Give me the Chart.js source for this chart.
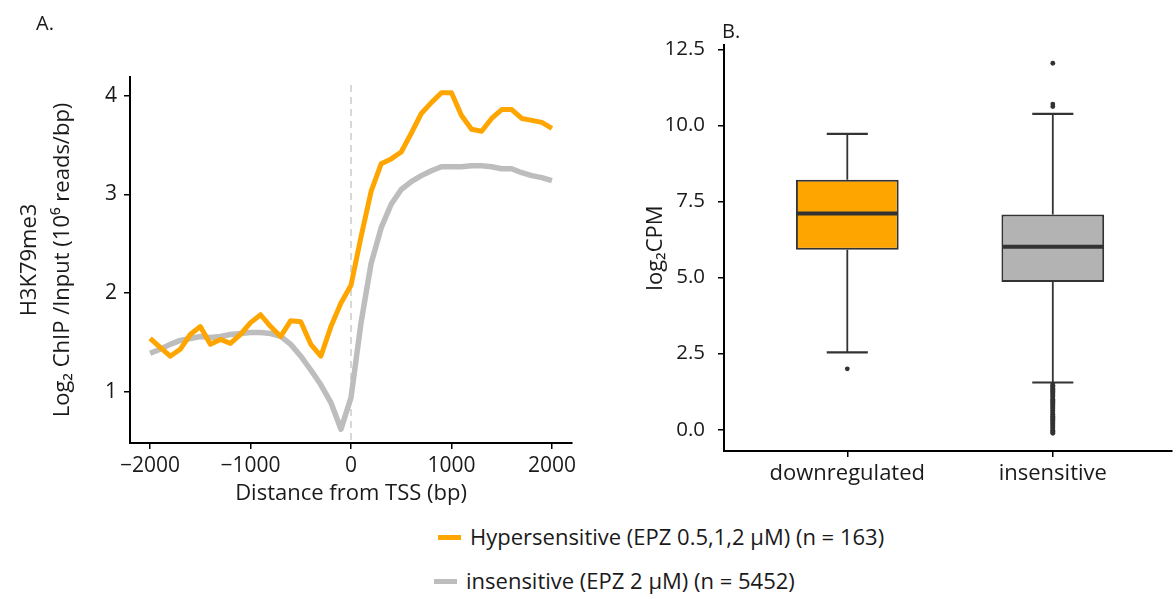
<!DOCTYPE html>
<html>
<head>
    <title>H3K79me3 profile and expression</title>
    <script src="https://cdn.jsdelivr.net/npm/chart.js"></script>
    <style>
        body {
            margin: 0;
            width: 1176px;
            height: 599px;
            background-color: white;
            font-family: "Open Sans", sans-serif;
            color: #1a1a1a;
            position: relative;
            overflow: hidden;
        }
        canvas { position: absolute; top: 0; }
        #profileChart { left: 0; }
        #boxChart { left: 600px; }
        .panel-label {
            position: absolute;
            font-size: 20px;
            line-height: 20px;
        }
        .legend-row {
            position: absolute;
            font-size: 22px;
            line-height: 24px;
            white-space: nowrap;
        }
        .swatch {
            display: inline-block;
            width: 23px;
            height: 5px;
            vertical-align: middle;
            margin-right: 9px;
            position: relative;
            top: -2px;
        }
    </style>
</head>
<body>
    <canvas id="profileChart" width="600" height="510"></canvas>
    <canvas id="boxChart" width="576" height="510"></canvas>

    <div class="panel-label" style="left:36px; top:13px;">A.</div>
    <div class="panel-label" style="left:722px; top:21px;">B.</div>

    <div class="legend-row" style="left:438px; top:524px;">
        <span class="swatch" style="background:#FFA500;"></span>Hypersensitive (EPZ 0.5,1,2 μM) (n = 163)
    </div>
    <div class="legend-row" style="left:434px; top:568px;">
        <span class="swatch" style="background:#BDBDBD;"></span>insensitive (EPZ 2 μM) (n = 5452)
    </div>

    <script>
        // Panel A data: distance from TSS (bp)
        const distance = [-2000, -1900, -1800, -1700, -1600, -1500, -1400, -1300, -1200, -1100,
                          -1000, -900, -800, -700, -600, -500, -400, -300, -200, -100,
                          0, 100, 200, 300, 400, 500, 600, 700, 800, 900,
                          1000, 1100, 1200, 1300, 1400, 1500, 1600, 1700, 1800, 1900, 2000];
        const hypersensitive = [1.54, 1.45, 1.36, 1.43, 1.58, 1.66, 1.48, 1.53, 1.49, 1.58,
                                1.70, 1.78, 1.66, 1.56, 1.72, 1.71, 1.48, 1.36, 1.66, 1.90,
                                2.08, 2.57, 3.03, 3.31, 3.36, 3.43, 3.62, 3.82, 3.93, 4.03,
                                4.03, 3.80, 3.66, 3.64, 3.77, 3.86, 3.86, 3.77, 3.75, 3.73, 3.67];
        const insensitive = [1.39, 1.43, 1.48, 1.52, 1.54, 1.56, 1.55, 1.56, 1.58, 1.59,
                             1.60, 1.60, 1.59, 1.56, 1.48, 1.36, 1.22, 1.07, 0.89, 0.62,
                             0.94, 1.70, 2.30, 2.66, 2.90, 3.05, 3.13, 3.19, 3.24, 3.28,
                             3.28, 3.28, 3.29, 3.29, 3.28, 3.26, 3.26, 3.22, 3.19, 3.17, 3.14];
        const profileXTicks = [-2000, -1000, 0, 1000, 2000];
        const profileYTicks = [1, 2, 3, 4];
        const tssPosition = 0;

        // Panel B data: log2 CPM box statistics
        const boxCategories = ['downregulated', 'insensitive'];
        const boxQ1 = [5.91, 4.85];
        const boxMedian = [7.10, 6.01];
        const boxQ3 = [8.21, 7.07];
        const whiskerLow = [2.54, 1.55];
        const whiskerHigh = [9.72, 10.38];
        const outliersDown = [2.00];
        const outliersInsensitive = [12.04, 10.70, 10.62,
                                     1.50, 1.46, 1.43, 1.40, 1.36, 1.33, 1.29, 1.26, 1.22, 1.19,
                                     1.15, 1.12, 1.08, 1.04, 1.00, 0.97, 0.93, 0.90, 0.86, 0.83,
                                     0.79, 0.76, 0.72, 0.69, 0.65, 0.62, 0.58, 0.55, 0.51, 0.48,
                                     0.44, 0.41, 0.37, 0.34, 0.30, 0.27, 0.23, 0.20, 0.16, 0.13,
                                     0.09, 0.06, 0.02, -0.02, -0.05, -0.09, -0.12];
        const boxYTicks = [0, 2.5, 5, 7.5, 10, 12.5];

        const FONT = "'Open Sans', sans-serif";
        const TEXT = '#1a1a1a';
        Chart.defaults.font.family = FONT;
        Chart.defaults.color = TEXT;

        function axisStyle() {
            return {
                grid: { drawOnChartArea: false, drawTicks: true, tickLength: 6, color: '#000', lineWidth: 1.5, offset: false },
                border: { display: true, color: '#000', width: 2 }
            };
        }

        // dashed line at the TSS
        const tssLine = {
            id: 'tssLine',
            beforeDatasetsDraw(chart) {
                const x = chart.scales.x.getPixelForValue(tssPosition);
                const area = chart.chartArea;
                const ctx = chart.ctx;
                ctx.save();
                ctx.strokeStyle = '#cccccc';
                ctx.lineWidth = 1.5;
                ctx.setLineDash([7, 5]);
                ctx.beginPath();
                ctx.moveTo(x, area.top + 8);
                ctx.lineTo(x, area.bottom);
                ctx.stroke();
                ctx.restore();
            }
        };

        new Chart(document.getElementById('profileChart'), {
            type: 'line',
            data: {
                datasets: [{
                    label: 'Hypersensitive (EPZ 0.5,1,2 μM) (n = 163)',
                    data: distance.map((d, i) => ({ x: d, y: hypersensitive[i] })),
                    borderColor: '#FFA500',
                    borderWidth: 5,
                    pointRadius: 0,
                    tension: 0,
                    borderJoinStyle: 'round'
                }, {
                    label: 'insensitive (EPZ 2 μM) (n = 5452)',
                    data: distance.map((d, i) => ({ x: d, y: insensitive[i] })),
                    borderColor: '#BDBDBD',
                    borderWidth: 5.5,
                    pointRadius: 0,
                    tension: 0,
                    borderJoinStyle: 'round'
                }]
            },
            options: {
                responsive: false,
                animation: false,
                devicePixelRatio: 1,
                layout: { padding: { top: 77, right: 28, left: 0, bottom: 0 } },
                plugins: { legend: { display: false }, tooltip: { enabled: false } },
                scales: {
                    x: {
                        type: 'linear',
                        min: -2200,
                        max: 2200,
                        ...axisStyle(),
                        afterBuildTicks: s => { s.ticks = profileXTicks.map(v => ({ value: v })); },
                        afterFit: s => { s.height = 67; },
                        ticks: {
                            padding: 4,
                            font: { size: 21 },
                            color: TEXT,
                            callback: v => (v < 0 ? '\u2212' + Math.abs(v) : String(v))
                        },
                        title: {
                            display: true,
                            text: 'Distance from TSS (bp)',
                            font: { size: 22 },
                            color: TEXT,
                            padding: { top: 0, bottom: 3 }
                        }
                    },
                    y: {
                        min: 0.48,
                        max: 4.19,
                        ...axisStyle(),
                        afterBuildTicks: s => { s.ticks = profileYTicks.map(v => ({ value: v })); },
                        afterFit: s => { s.width = 130; },
                        ticks: { padding: 7, font: { size: 21 }, color: TEXT },
                        title: {
                            display: true,
                            text: ['H3K79me3', 'Log\u2082 ChIP /Input (10\u2076 reads/bp)'],
                            font: { size: 22, lineHeight: 1.5 },
                            color: TEXT,
                            padding: { top: 13, bottom: 0 }
                        }
                    }
                }
            },
            plugins: [tssLine]
        });

        // whiskers, caps and medians drawn through the chart scales
        const boxParts = {
            id: 'boxParts',
            beforeDatasetsDraw(chart) {
                const xs = chart.scales.x, ys = chart.scales.y, ctx = chart.ctx;
                ctx.save();
                ctx.strokeStyle = '#333333';
                boxCategories.forEach((c, i) => {
                    const x = xs.getPixelForValue(i + 1);
                    ctx.lineWidth = 1.8;
                    ctx.beginPath();
                    ctx.moveTo(x, ys.getPixelForValue(boxQ3[i]));
                    ctx.lineTo(x, ys.getPixelForValue(whiskerHigh[i]));
                    ctx.moveTo(x, ys.getPixelForValue(boxQ1[i]));
                    ctx.lineTo(x, ys.getPixelForValue(whiskerLow[i]));
                    ctx.stroke();
                    ctx.lineWidth = 2.2;
                    const l = xs.getPixelForValue(i + 0.9), r = xs.getPixelForValue(i + 1.1);
                    [whiskerHigh[i], whiskerLow[i]].forEach(v => {
                        const y = ys.getPixelForValue(v);
                        ctx.beginPath();
                        ctx.moveTo(l, y);
                        ctx.lineTo(r, y);
                        ctx.stroke();
                    });
                });
                ctx.restore();
            },
            afterDatasetsDraw(chart) {
                const xs = chart.scales.x, ys = chart.scales.y, ctx = chart.ctx;
                ctx.save();
                ctx.strokeStyle = '#333333';
                ctx.lineWidth = 4;
                boxCategories.forEach((c, i) => {
                    const y = ys.getPixelForValue(boxMedian[i]);
                    ctx.beginPath();
                    ctx.moveTo(xs.getPixelForValue(i + 0.75) + 1, y);
                    ctx.lineTo(xs.getPixelForValue(i + 1.25) - 1, y);
                    ctx.stroke();
                });
                ctx.restore();
            }
        };

        const outlierPoints = outliersDown.map(v => ({ x: 1, y: v }))
            .concat(outliersInsensitive.map(v => ({ x: 2, y: v })));

        new Chart(document.getElementById('boxChart'), {
            type: 'bar',
            data: {
                datasets: [{
                    label: 'log2CPM',
                    data: boxCategories.map((c, i) => ({ x: i + 1, y: [boxQ1[i], boxQ3[i]] })),
                    backgroundColor: ['#FFA500', '#B3B3B3'],
                    borderColor: '#333333',
                    borderWidth: 2,
                    borderSkipped: false,
                    categoryPercentage: 1,
                    barPercentage: 0.5
                }, {
                    type: 'scatter',
                    label: 'outliers',
                    data: outlierPoints,
                    pointRadius: 2.4,
                    backgroundColor: '#333333',
                    borderWidth: 0
                }]
            },
            options: {
                responsive: false,
                animation: false,
                devicePixelRatio: 1,
                layout: { padding: { top: 45, right: 0, left: 0, bottom: 0 } },
                plugins: { legend: { display: false }, tooltip: { enabled: false } },
                scales: {
                    x: {
                        type: 'linear',
                        min: 0.4,
                        max: 2.58,
                        offset: false,
                        ...axisStyle(),
                        afterBuildTicks: s => { s.ticks = boxCategories.map((c, i) => ({ value: i + 1 })); },
                        afterFit: s => { s.height = 59; },
                        ticks: {
                            padding: 4,
                            font: { size: 22 },
                            color: TEXT,
                            callback: v => boxCategories[v - 1]
                        }
                    },
                    y: {
                        min: -0.7,
                        max: 12.64,
                        ...axisStyle(),
                        afterBuildTicks: s => { s.ticks = boxYTicks.map(v => ({ value: v })); },
                        afterFit: s => { s.width = 124; },
                        ticks: { padding: 13, font: { size: 20.5 }, color: TEXT, callback: v => v.toFixed(1) },
                        title: {
                            display: true,
                            text: 'log\u2082CPM',
                            font: { size: 22 },
                            color: TEXT,
                            padding: { top: 43, bottom: 0 }
                        }
                    }
                }
            },
            plugins: [boxParts]
        });
    </script>
</body>
</html>
